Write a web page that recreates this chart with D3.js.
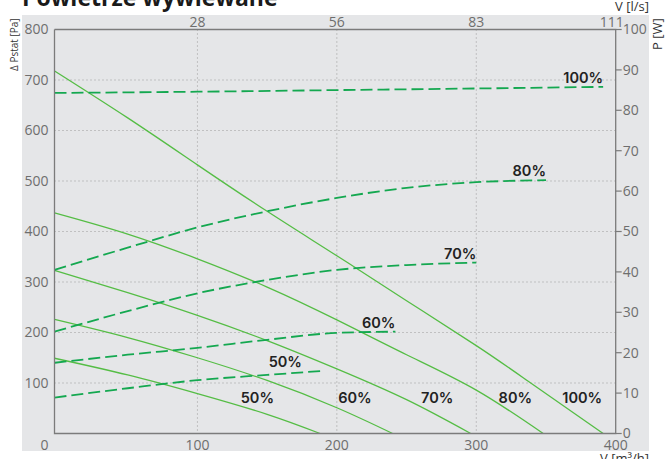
<!DOCTYPE html>
<html>
<head>
  <meta charset="UTF-8">
  <style>
    body { margin: 0; background: #fff; }
    svg { display: block; }
    text { font-family: "Open Sans", sans-serif; }
  </style>
</head>
<body>
<svg></svg>
<script src="https://d3js.org/d3.v7.min.js"></script>

<script>

let width = 665, height = 459;

// fan curves: [V m3/h, dP Pa]
let fan50  = [[-2.5, 149], [50, 116], [100, 79], [150, 38], [188, 0]];
let fan60  = [[-2.5, 226], [50, 190], [100, 150], [150, 105], [200, 51], [240, 0]];
let fan70  = [[-2.5, 323], [50, 279], [100, 234], [150, 184], [200, 128], [250, 67], [296, 0]];
let fan80  = [[-2.5, 437], [50, 395], [100, 346], [150, 290], [200, 225], [250, 156], [300, 86], [348, 0]];
let fan100 = [[-2.5, 718], [50, 625], [100, 532], [150, 440], [200, 352], [250, 263], [300, 174], [337, 104], [391, 0]];

// power curves: [V m3/h, P W]
let pow50  = [[-2.5, 8.9], [50, 11.2], [100, 13.2], [150, 14.5], [190, 15.5]];
let pow60  = [[-2.5, 17.5], [50, 19.5], [100, 21.2], [150, 23.2], [200, 24.9], [242, 25.2]];
let pow70  = [[-2.5, 25.2], [50, 30.3], [100, 34.7], [150, 38], [200, 40.5], [250, 41.7], [300, 42.3]];
let pow80  = [[-2.5, 40.5], [50, 46], [100, 51], [150, 55], [200, 58.3], [250, 60.8], [300, 62.2], [350, 62.7]];
let pow100 = [[-2.5, 84.3], [100, 84.6], [200, 85], [300, 85.4], [391, 85.8]];

let levels = ["50%", "60%", "70%", "80%", "100%"];
let fanCurves = [fan50, fan60, fan70, fan80, fan100];
let powCurves = [pow50, pow60, pow70, pow80, pow100];
let fanLabelV = [143, 213, 272, 328, 376];

let xTicks = [100, 200, 300, 400];
let topTickLabels = ["28", "56", "83", "111"];
let yTicks = [100, 200, 300, 400, 500, 600, 700, 800];
let yGrid = [100, 200, 300, 400, 500, 600, 700];
let wTicks = [0, 10, 20, 30, 40, 50, 60, 70, 80, 90, 100];

let svg = d3.select("svg")
    .attr("width", width)
    .attr("height", height)
    .attr("viewBox", "0 0 " + width + " " + height);

let pLeft = 54.5, pRight = 615.7, pTop = 29.5, pBottom = 433.5;

let x = d3.scaleLinear().domain([-2.5, 400]).range([pLeft, pRight]);
let yP = d3.scaleLinear().domain([0, 800]).range([pBottom, pTop]);
let yW = d3.scaleLinear().domain([0, 100]).range([pBottom, pTop]);

// panel background
svg.append("rect")
    .attr("x", 22).attr("y", 15)
    .attr("width", 627).attr("height", 436)
    .attr("fill", "#e5e6e8");

// title (cut by the top edge)
svg.append("text")
    .attr("x", 22).attr("y", 6)
    .style("font-family", "'Open Sans', sans-serif")
    .style("font-weight", 700)
    .style("font-size", "23px")
    .attr("fill", "#1a1a1a")
    .text("Powietrze wywiewane");

// grid
let grid = svg.append("g")
    .attr("stroke", "#9a9a9a")
    .attr("stroke-width", 1)
    .attr("stroke-dasharray", "1,3");

grid.selectAll(".hg")
    .data(yGrid)
    .enter()
    .append("line")
    .attr("x1", pLeft).attr("x2", pRight)
    .attr("y1", d => yP(d)).attr("y2", d => yP(d));

grid.selectAll(".vg")
    .data(xTicks.slice(0, 3))
    .enter()
    .append("line")
    .attr("y1", pTop).attr("y2", pBottom)
    .attr("x1", d => x(d)).attr("x2", d => x(d));

// curves
let fanLine = d3.line().curve(d3.curveNatural);
let powLine = d3.line().curve(d3.curveMonotoneX);

svg.append("g")
    .selectAll("path")
    .data(fanCurves)
    .enter()
    .append("path")
    .attr("d", d => fanLine(d.map(p => [x(p[0]), yP(p[1])])))
    .attr("fill", "none")
    .attr("stroke", "#55bd45")
    .attr("stroke-width", 1.3);

svg.append("g")
    .selectAll("path")
    .data(powCurves)
    .enter()
    .append("path")
    .attr("d", d => powLine(d.map(p => [x(p[0]), yW(p[1])])))
    .attr("fill", "none")
    .attr("stroke", "#14a850")
    .attr("stroke-width", 1.8)
    .attr("stroke-dasharray", "12,5");

// frame / axes lines
let axisColor = "#7b7b7b";
svg.append("path")
    .attr("d", "M" + pLeft + "," + pTop + "V" + pBottom + "H" + pRight + "V" + pTop + "H" + pLeft)
    .attr("fill", "none")
    .attr("stroke", axisColor)
    .attr("stroke-width", 1.3);

let tickFont = "14px";
let tickColor = "#6e6e6e";

// left ticks
svg.append("g")
    .selectAll("text")
    .data(yTicks)
    .enter()
    .append("text")
    .attr("x", pLeft - 6)
    .attr("y", d => yP(d))
    .attr("dy", "0.35em")
    .attr("text-anchor", "end")
    .style("font-size", tickFont)
    .attr("fill", tickColor)
    .text(d => d);

// corner 0
svg.append("text")
    .attr("x", pLeft - 6).attr("y", pBottom + 16)
    .attr("text-anchor", "end")
    .style("font-size", tickFont)
    .attr("fill", tickColor)
    .text("0");

// bottom ticks
svg.append("g")
    .selectAll("text")
    .data(xTicks)
    .enter()
    .append("text")
    .attr("x", d => x(d))
    .attr("y", pBottom + 16.5)
    .attr("text-anchor", "middle")
    .style("font-size", tickFont)
    .attr("fill", tickColor)
    .text(d => d);

// top ticks (l/s)
svg.append("g")
    .selectAll("text")
    .data(xTicks)
    .enter()
    .append("text")
    .attr("x", (d, i) => x(d) - (i == 3 ? 4 : 0))
    .attr("y", pTop - 3)
    .attr("text-anchor", "middle")
    .style("font-size", tickFont)
    .attr("fill", tickColor)
    .text((d, i) => topTickLabels[i]);

// right axis (W)
let rAxis = svg.append("g");
rAxis.selectAll("line")
    .data(wTicks)
    .enter()
    .append("line")
    .attr("x1", pRight).attr("x2", pRight + 6)
    .attr("y1", d => yW(d)).attr("y2", d => yW(d))
    .attr("stroke", axisColor)
    .attr("stroke-width", 1.2);
rAxis.selectAll("text")
    .data(wTicks)
    .enter()
    .append("text")
    .attr("x", pRight + 7)
    .attr("y", d => yW(d))
    .attr("dy", "0.35em")
    .style("font-size", tickFont)
    .attr("fill", tickColor)
    .text(d => d);

// axis titles
svg.append("text")
    .attr("transform", "translate(18,71) rotate(-90)")
    .style("font-size", "10px")
    .attr("fill", "#333")
    .text("Δ Pstat [Pa]");

svg.append("text")
    .attr("transform", "translate(662,50) rotate(-90)")
    .style("font-size", "13px")
    .attr("fill", "#333")
    .text("P [W]");

svg.append("text")
    .attr("x", 649).attr("y", 11)
    .attr("text-anchor", "end")
    .style("font-size", "13px")
    .attr("fill", "#333")
    .text("V [l/s]");

svg.append("text")
    .attr("x", 649).attr("y", 463)
    .attr("text-anchor", "end")
    .style("font-size", "13px")
    .attr("fill", "#333")
    .text("V [m³/h]");

// curve labels
let labelStyle = sel => sel
    .style("font-family", "Inter, sans-serif")
    .style("font-weight", 600)
    .style("font-size", "14.5px")
    .attr("fill", "#222");

svg.append("g")
    .selectAll("text")
    .data(powCurves)
    .enter()
    .append("text")
    .attr("x", (d, i) => x(d[d.length - 1][0]) - (i == 0 ? 21 : 0))
    .attr("y", d => yW(d[d.length - 1][1]) - 4)
    .attr("text-anchor", "end")
    .call(labelStyle)
    .text((d, i) => levels[i]);

svg.append("g")
    .selectAll("text")
    .data(fanLabelV)
    .enter()
    .append("text")
    .attr("x", d => x(d))
    .attr("y", yP(60))
    .attr("text-anchor", "middle")
    .call(labelStyle)
    .text((d, i) => levels[i]);

</script>

</body>
</html>
